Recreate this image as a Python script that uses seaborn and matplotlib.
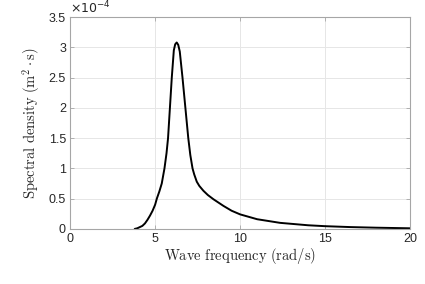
import matplotlib
matplotlib.use("Agg")
import matplotlib.pyplot as plt
import matplotlib.ticker as mticker
import seaborn as sns
import pandas as pd

# Wave spectrum (frequency in rad/s, density in m^2 s)
freq = [3.8, 3.95, 4.1, 4.25, 4.4, 4.55, 4.7, 4.85, 5.0, 5.1, 5.25, 5.39,
        5.55, 5.67, 5.76, 5.87, 5.98, 6.1, 6.18, 6.27, 6.36, 6.45, 6.61,
        6.78, 6.95, 7.07, 7.2, 7.3, 7.45, 7.6, 7.84, 8.1, 8.43, 9.02, 9.5,
        10.0, 11.0, 12.35, 14.0, 15.0, 16.5, 18.0, 20.0]
density = [0, 0.01e-4, 0.03e-4, 0.05e-4, 0.09e-4, 0.15e-4, 0.22e-4, 0.30e-4,
           0.40e-4, 0.50e-4, 0.62e-4, 0.75e-4, 1.0e-4, 1.25e-4, 1.5e-4,
           2.0e-4, 2.5e-4, 2.95e-4, 3.05e-4, 3.08e-4, 3.04e-4, 2.93e-4, 2.5e-4,
           2.0e-4, 1.5e-4, 1.22e-4, 1.0e-4, 0.90e-4, 0.78e-4, 0.71e-4,
           0.63e-4, 0.56e-4, 0.49e-4, 0.38e-4, 0.30e-4, 0.24e-4, 0.16e-4,
           0.10e-4, 0.06e-4, 0.045e-4, 0.03e-4, 0.02e-4, 0.01e-4]

df = pd.DataFrame({"freq": freq, "density": density})

sns.set_style("white")
plt.rcParams["mathtext.fontset"] = "cm"
plt.rcParams["font.family"] = ["Liberation Sans", "DejaVu Sans"]

fig = plt.figure(figsize=(4.25, 2.84), dpi=100)
ax = fig.add_axes([0.165, 0.194, 0.8, 0.746])

sns.lineplot(data=df, x="freq", y="density", color="black", linewidth=1.4, ax=ax)

ax.set_xlim(0, 20)
ax.set_ylim(0, 3.5e-4)
ax.set_xticks([0, 5, 10, 15, 20])
ax.set_yticks([i * 0.5e-4 for i in range(8)])
ax.yaxis.set_major_formatter(mticker.FuncFormatter(lambda v, p: "%g" % round(v * 1e4, 2)))

ax.grid(True, color="#e6e6e6", linewidth=0.7)
for s in ax.spines.values():
    s.set_visible(True)
    s.set_color("#a6a6a6")
    s.set_linewidth(0.8)
ax.tick_params(direction="in", length=3, width=0.6, color="#a6a6a6",
               labelsize=9, labelcolor="#262626", top=True, right=True,
               left=True, bottom=True, pad=3)

ax.text(0.0, 1.005, r"$\times10^{-4}$", transform=ax.transAxes,
        fontsize=9, color="#262626", va="bottom", ha="left",
        math_fontfamily="dejavusans")

ax.set_xlabel(r"$\mathrm{Wave\ frequency\ (rad/s)}$", fontsize=10.5, labelpad=1)
ax.set_ylabel(r"$\mathrm{Spectral\ density\ (m^2\cdot s)}$", fontsize=10.5, labelpad=4)

fig.savefig("out.png", dpi=100)
